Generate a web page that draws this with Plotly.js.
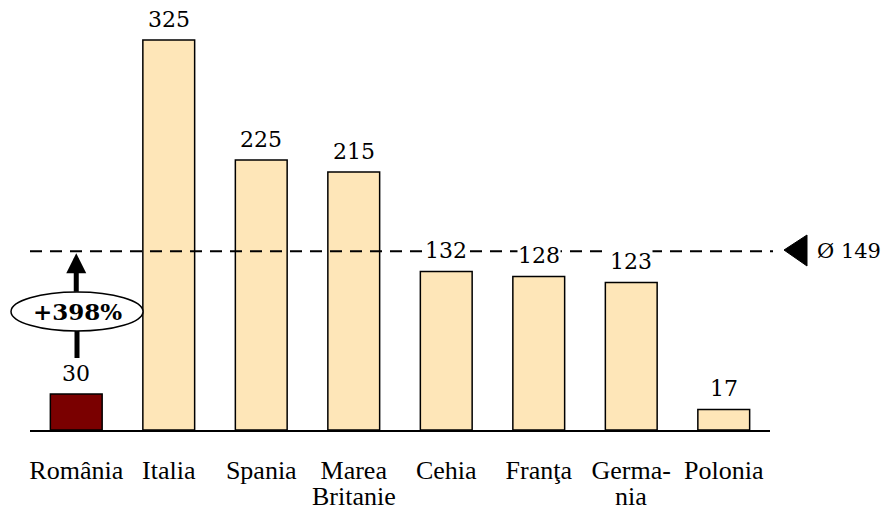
<!DOCTYPE html>
<html>
<head>
<meta charset="utf-8">
<script src="https://cdn.plot.ly/plotly-3.0.1.min.js"></script>
<style>body{margin:0;background:#fff;}#chart{width:886px;height:512px;}</style>
</head>
<body>
<div id="chart"></div>
<script>
const categories = ["România", "Italia", "Spania", "Marea<br>Britanie", "Cehia", "Franţa", "Germa-<br>nia", "Polonia"];
const values = [30, 325, 225, 215, 132, 128, 123, 17];
const barColors = ["#7a0000", "#fee6b8", "#fee6b8", "#fee6b8", "#fee6b8", "#fee6b8", "#fee6b8", "#fee6b8"];
const average = 149;
const averageLabel = "Ø 149";
const growthLabel = "+398%";

const L = 30, W = 740, T = 10, H = 420;
const px = v => (v - L) / W;          // pixel x -> paper x
const py = v => (T + H - v) / H;      // pixel y -> paper y

const idx = categories.map((c, i) => i);
const firstLines = categories.map(c => c.split('<br>')[0]);
const secondLines = categories.map(c => c.split('<br>')[1] || '');
const serif = "'DejaVu Serif', serif";
const tickFont = {family: "'Liberation Serif', serif", size: 26, color: '#000'};

const annotations = values.map((v, i) => ({
  x: i, y: v, xref: 'x', yref: 'y', text: String(v), showarrow: false,
  yshift: 21, yanchor: 'middle', bgcolor: '#ffffff', borderpad: 0,
  font: {family: serif, size: 22, color: '#000'}
}));
secondLines.forEach((s, i) => {
  if (s) annotations.push({
    x: i, y: py(512), xref: 'x', yref: 'paper', text: s, showarrow: false,
    yanchor: 'bottom', font: tickFont, borderpad: 0
  });
});
annotations.push({
  x: 0, y: average, xref: 'x', yref: 'y', ax: 0, ay: 42, axref: 'pixel', ayref: 'pixel',
  showarrow: true, arrowhead: 2, arrowsize: 0.8, arrowwidth: 5, arrowcolor: '#000', text: '', standoff: 2
});
annotations.push({
  x: px(815), y: average, xref: 'paper', yref: 'y', text: averageLabel, showarrow: false,
  font: {family: serif, size: 21, color: '#000'}, xanchor: 'left', yanchor: 'middle'
});
annotations.push({
  x: px(77), y: py(311), xref: 'paper', yref: 'paper', text: '<b>' + growthLabel + '</b>', showarrow: false,
  font: {family: serif, size: 23, color: '#000'}, xanchor: 'center', yanchor: 'middle'
});

const shapes = [
  {type: 'line', xref: 'paper', yref: 'y', x0: 0, x1: px(773), y0: average, y1: average,
   line: {color: '#000', width: 2, dash: '12px,8px'}, layer: 'above'},
  {type: 'path', xref: 'paper', yref: 'paper',
   path: `M ${px(784)} ${py(250)} L ${px(807)} ${py(235)} L ${px(807)} ${py(266)} Z`,
   fillcolor: '#000', line: {color: '#000', width: 1}},
  {type: 'line', xref: 'paper', yref: 'paper', x0: px(77), x1: px(77), y0: py(329), y1: py(358),
   line: {color: '#000', width: 5}, layer: 'above'},
  {type: 'circle', xref: 'paper', yref: 'paper', x0: px(11), x1: px(143), y0: py(292), y1: py(331),
   fillcolor: '#fff', line: {color: '#000', width: 1.5}, layer: 'above'}
];

Plotly.newPlot('chart', [{
  type: 'bar', x: idx, y: values, width: 0.56,
  marker: {color: barColors, line: {color: '#000', width: 1.5}},
  hoverinfo: 'skip'
}], {
  width: 886, height: 512,
  margin: {l: L, r: 886 - L - W, t: T, b: 512 - T - H},
  paper_bgcolor: '#fff', plot_bgcolor: '#fff',
  showlegend: false,
  xaxis: {range: [-0.5, 7.5], tickvals: idx, ticktext: firstLines, showgrid: false, zeroline: false,
          showline: true, linecolor: '#000', linewidth: 1.5, ticks: '', ticklabelstandoff: 16,
          tickfont: tickFont, automargin: false},
  yaxis: {range: [0, 350], visible: false, fixedrange: true},
  shapes: shapes,
  annotations: annotations
}, {staticPlot: true});
</script>
</body>
</html>
